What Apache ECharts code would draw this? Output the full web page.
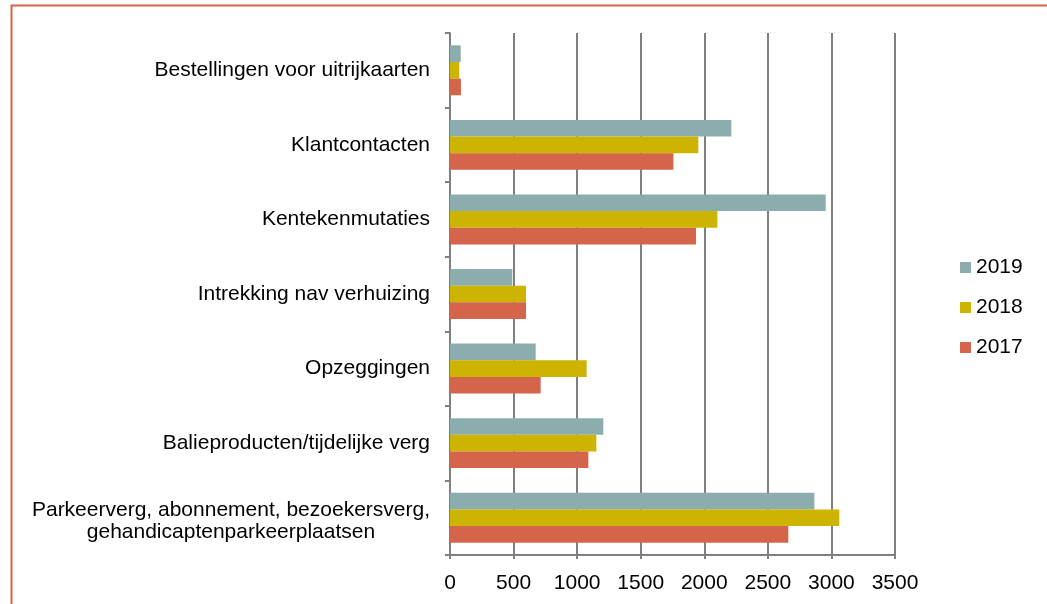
<!DOCTYPE html>
<html lang="nl">
<head>
    <meta charset="UTF-8">
    <title>Producten per jaar</title>
    <script src="https://cdn.jsdelivr.net/npm/echarts@6/dist/echarts.min.js"></script>
</head>
<style>
    html,body{
        margin:0;
        padding:0;
        background:#fff;
    }
    #chart{
        width:1047px;
        height:604px;
    }
</style>
<body>
    <div id="chart"></div>
</body>
</html>

<script>
    // categorieen van boven naar beneden
    let categories=[
        'Bestellingen voor uitrijkaarten',
        'Klantcontacten',
        'Kentekenmutaties',
        'Intrekking nav verhuizing',
        'Opzeggingen',
        'Balieproducten/tijdelijke verg',
        'Parkeerverg, abonnement, bezoekersverg,\ngehandicaptenparkeerplaatsen'
    ];
    let years=['2019','2018','2017'];
    let v2019=[84,2213,2955,490,674,1206,2866];
    let v2018=[73,1953,2103,598,1075,1151,3062];
    let v2017=[86,1757,1935,598,713,1088,2661];
    let xTicks=[0,500,1000,1500,2000,2500,3000,3500];

    let colors={'2019':'#8CADAE','2018':'#CDB400','2017':'#D4654B'};
    let values={'2019':v2019,'2018':v2018,'2017':v2017};

    let chart=echarts.init(document.getElementById('chart'));
    let font="'Liberation Sans', Arial, sans-serif";
    let fs=21;

    chart.setOption({
        animation:false,
        textStyle:{fontFamily:font},
        // rand van de grafiek (alleen boven en links zichtbaar)
        graphic:[{
            type:'rect',
            left:9,
            top:3,
            shape:{width:1200,height:800},
            style:{fill:'none',stroke:'#D4654B',lineWidth:2},
            silent:true
        }],
        grid:{
            left:450,
            right:152,
            top:33,
            bottom:49,
            containLabel:false
        },
        legend:{
            orient:'vertical',
            left:955,
            top:252,
            itemWidth:11,
            itemHeight:11,
            itemGap:19,
            icon:'rect',
            data:years,
            textStyle:{fontSize:fs,color:'#000',fontFamily:font}
        },
        xAxis:{
            type:'value',
            min:xTicks[0],
            max:xTicks[xTicks.length-1],
            interval:500,
            axisLine:{show:true,lineStyle:{color:'#808080',width:2}},
            axisTick:{show:true,length:4,lineStyle:{color:'#808080',width:2}},
            axisLabel:{
                fontSize:fs,
                color:'#000',
                margin:18,
                fontFamily:font,
                formatter:function(v){return String(v);}
            },
            splitLine:{show:true,lineStyle:{color:'#7f7f7f',width:2}}
        },
        yAxis:{
            type:'category',
            inverse:true,
            data:categories,
            axisLine:{show:true,lineStyle:{color:'#808080',width:2}},
            axisTick:{show:true,length:5,lineStyle:{color:'#808080',width:2}},
            axisLabel:{
                fontSize:fs,
                color:'#000',
                margin:20,
                fontFamily:font,
                lineHeight:22,
                // meerregelige label: regels gecentreerd, iets omlaag
                formatter:function(v){
                    let lines=v.split('\n');
                    if(lines.length==1) return v;
                    return lines.map(function(s,i){return (i==0?'{m|':'{c|')+s+'}';}).join('\n');
                },
                rich:{
                    m:{align:'center',verticalAlign:'bottom',fontSize:fs,color:'#000',fontFamily:font,lineHeight:28},
                    c:{align:'center',fontSize:fs,color:'#000',fontFamily:font,lineHeight:22}
                }
            }
        },
        series:years.map(function(y){
            return {
                name:y,
                type:'bar',
                data:values[y],
                barGap:0,
                barCategoryGap:'33%',
                itemStyle:{color:colors[y]}
            };
        })
    });
</script>
